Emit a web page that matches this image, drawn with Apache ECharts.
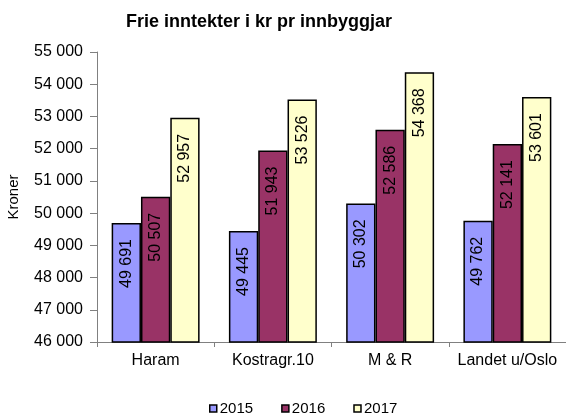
<!DOCTYPE html>
<html lang="no">
<head>
    <meta charset="utf-8">
    <title>Frie inntekter i kr pr innbyggjar</title>
    <script src="https://cdn.jsdelivr.net/npm/echarts@6/dist/echarts.min.js"></script>
    <style>
        html, body { margin: 0; padding: 0; background: #fff; }
        #chart { width: 566px; height: 416px; }
    </style>
</head>
<body>
<div id="chart"></div>
<script>
    // data
    var categories = ['Haram', 'Kostragr.10', 'M & R', 'Landet u/Oslo'];
    var years = ['2015', '2016', '2017'];
    var values2015 = [49691, 49445, 50302, 49762];
    var values2016 = [50507, 51943, 52586, 52141];
    var values2017 = [52957, 53526, 54368, 53601];
    var colors = ['#9999FF', '#993366', '#FFFFCC'];

    function fmt(v) {
        return String(Math.round(v)).replace(/\B(?=(\d{3})+(?!\d))/g, ' ');
    }

    var font = 'Liberation Sans, Arial, sans-serif';
    var myChart = echarts.init(document.getElementById('chart'));

    function makeSeries(name, data, color) {
        return {
            name: name,
            type: 'bar',
            data: data,
            barGap: '0%',
            barCategoryGap: '25%',
            itemStyle: {
                color: color,
                borderColor: '#000',
                borderWidth: 1.5
            },
            label: {
                show: true,
                position: 'insideTop',
                rotate: 90,
                align: 'right',
                verticalAlign: 'middle',
                distance: 16,
                color: '#000',
                fontFamily: font,
                fontSize: 16,
                formatter: function (p) { return fmt(p.value); }
            }
        };
    }

    var option = {
        animation: false,
        title: {
            text: 'Frie inntekter i kr pr innbyggjar',
            left: 254,
            textAlign: 'center',
            top: 8,
            textStyle: { fontFamily: font, fontSize: 18, fontWeight: 'bold', color: '#000' }
        },
        legend: {
            data: years,
            left: 204,
            top: 396,
            itemWidth: 7,
            itemHeight: 7,
            itemGap: 28,
            icon: 'rect',
            textStyle: { fontFamily: font, fontSize: 15, color: '#000', padding: [0, 0, 0, -2] },
            itemStyle: { borderColor: '#000', borderWidth: 1.5 }
        },
        grid: {
            left: 97,
            right: 0,
            top: 52,
            bottom: 74,
            outerBoundsMode: 'none'
        },
        xAxis: {
            type: 'category',
            data: categories,
            axisLine: { lineStyle: { color: '#808080', width: 1 } },
            axisTick: { show: true, alignWithLabel: false, length: 5, lineStyle: { color: '#808080' } },
            axisLabel: { interval: 0, fontFamily: font, fontSize: 16, color: '#000', margin: 11 }
        },
        yAxis: {
            type: 'value',
            min: 46000,
            max: 55000,
            interval: 1000,
            name: 'Kroner',
            nameLocation: 'middle',
            nameGap: 76,
            nameTextStyle: { fontFamily: font, fontSize: 15, color: '#000' },
            axisLine: { show: true, lineStyle: { color: '#808080', width: 1 } },
            axisTick: { show: true, inside: false, length: 7, lineStyle: { color: '#808080' } },
            splitLine: { show: false },
            axisLabel: {
                fontFamily: font,
                fontSize: 16,
                color: '#000',
                margin: 14,
                formatter: function (v) { return fmt(v); }
            }
        },
        series: [
            makeSeries(years[0], values2015, colors[0]),
            makeSeries(years[1], values2016, colors[1]),
            makeSeries(years[2], values2017, colors[2])
        ]
    };

    myChart.setOption(option);
</script>
</body>
</html>
